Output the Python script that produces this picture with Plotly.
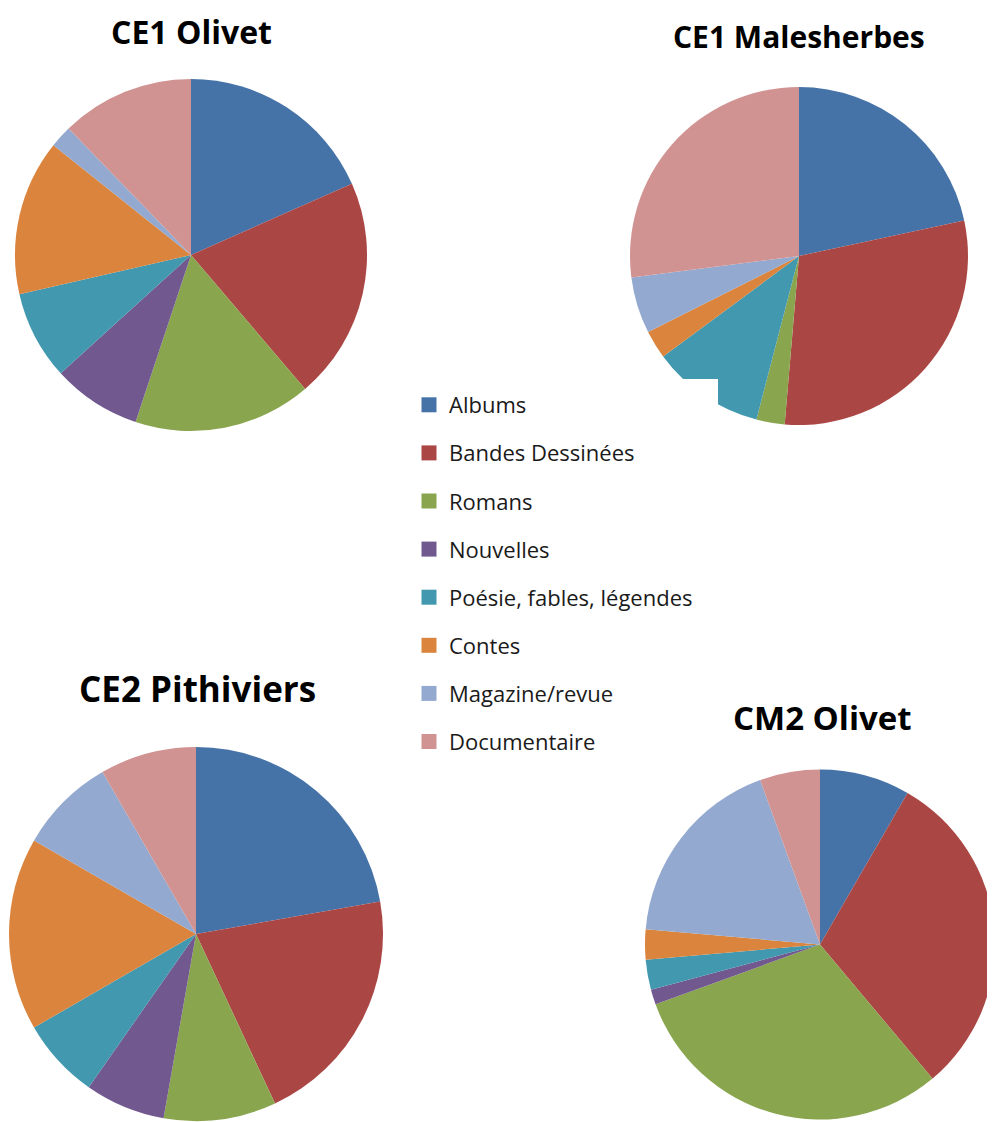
import plotly.graph_objects as go

# The page places the figure 8px from the top-left corner (body margin),
# so the figure is sized to fill the rest of the 995x1122 window.
OFF = 8
W, H = 995 - OFF, 1122 - OFF

categories = ["Albums", "Bandes Dessinées", "Romans", "Nouvelles",
              "Poésie, fables, légendes", "Contes", "Magazine/revue", "Documentaire"]
colors = ["#4572A7", "#AA4643", "#89A54E", "#71588F",
          "#4198AF", "#DB843D", "#93A9CF", "#D19392"]

ce1_olivet = [9, 10, 8, 4, 4, 7, 1, 6]
ce1_malesherbes = [8, 11, 1, 0, 4, 1, 2, 10]
ce2_pithiviers = [16, 15, 7, 5, 5, 12, 6, 6]
cm2_olivet = [6, 22, 22, 1, 2, 2, 13, 4]


def px(x):
    return (x - OFF) / W


def py(y):
    return 1 - (y - OFF) / H


charts = [
    # name, values, window-pixel box (x0, x1, ytop, ybottom), title center (x, y), title size
    ("CE1 Olivet", ce1_olivet, (15, 367, 79, 431), (191, 31), 32),
    ("CE1 Malesherbes", ce1_malesherbes, (630, 968, 87, 425), (799, 36), 30),
    ("CE2 Pithiviers", ce2_pithiviers, (9, 383, 747, 1121), (197, 688), 35),
    ("CM2 Olivet", cm2_olivet, (645, 995, 768, 1121), (822, 717), 33),
]

fig = go.Figure()

for name, vals, (x0, x1, yt, yb), _, _ in charts:
    fig.add_trace(go.Pie(
        labels=categories, values=vals, name=name,
        marker=dict(colors=colors, line=dict(width=0)),
        sort=False, direction="clockwise", rotation=0,
        textinfo="none", hoverinfo="label+value+percent",
        showlegend=False,
        domain=dict(x=[px(x0), px(x1)], y=[py(yb), py(yt)]),
    ))

# legend entries (one group per category to control spacing)
for cat, col in zip(categories, colors):
    fig.add_trace(go.Scatter(
        x=[None], y=[None], mode="markers", name=cat, legendgroup=cat,
        marker=dict(symbol="square", size=15, color=col),
        showlegend=True, hoverinfo="skip",
    ))

annotations = []
for name, _, _, (tx, ty), fs in charts:
    annotations.append(dict(
        text="<b>%s</b>" % name, x=px(tx), y=py(ty), xref="paper", yref="paper",
        xanchor="center", yanchor="middle", showarrow=False,
        font=dict(family="Open Sans", size=fs, color="#000000"),
    ))

fig.update_layout(
    width=W, height=H,
    margin=dict(l=0, r=0, t=0, b=0),
    paper_bgcolor="white", plot_bgcolor="white",
    xaxis=dict(visible=False), yaxis=dict(visible=False),
    annotations=annotations,
    legend=dict(
        x=px(409), y=py(384), xanchor="left", yanchor="top",
        font=dict(family="Open Sans", size=22, color="#1a1a1a"),
        tracegroupgap=16.5, bgcolor="rgba(0,0,0,0)", traceorder="grouped",
    ),
    shapes=[dict(type="rect", xref="paper", yref="paper",
                 x0=px(660), x1=px(718), y0=py(432), y1=py(379),
                 fillcolor="white", line=dict(width=0), layer="above")],
)

fig.write_html("out.html")
